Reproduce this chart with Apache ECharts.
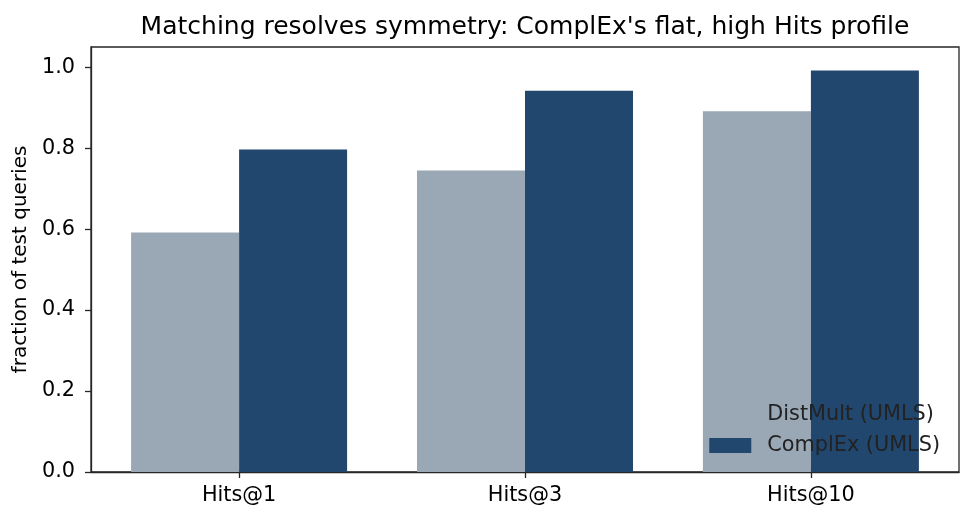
<!DOCTYPE html>
<html>
<head>
<meta charset="utf-8">
<script src="https://cdn.jsdelivr.net/npm/echarts@6/dist/echarts.min.js"></script>
<style>
  html, body { margin: 0; padding: 0; background: #fff; }
  #chart { width: 974px; height: 522px; }
</style>
</head>
<body>
<div id="chart"></div>
<script>
// data
const categories = ['Hits@1', 'Hits@3', 'Hits@10'];
const categoryPos = [0, 1, 2];
const distmult = [0.592, 0.745, 0.891];
const complex = [0.797, 0.942, 0.992];
const yTicks = [0, 0.2, 0.4, 0.6, 0.8, 1.0];

const font = 'DejaVu Sans';
const ink = '#262626';
const fs = 20.8;

const chart = echarts.init(document.getElementById('chart'));

// bars on a value x axis so the outer margins follow the reference
const toPairs = vals => vals.map((v, i) => [categoryPos[i], v]);

const option = {
    backgroundColor: '#fff',
    animation: false,
    textStyle: { fontFamily: font },
    title: {
        text: "Matching resolves symmetry: ComplEx's flat, high Hits profile",
        left: 520,
        textAlign: 'center',
        top: 10,
        textStyle: { fontFamily: font, fontSize: 25, fontWeight: 'normal', color: '#000' }
    },
    legend: {
        orient: 'vertical',
        right: 29,
        top: 399,
        icon: 'rect',
        itemWidth: 42,
        itemHeight: 15,
        itemGap: 10,
        textStyle: { fontFamily: font, fontSize: fs, color: '#222', padding: [0, 0, 0, 11], lineHeight: 21 },
        data: ['DistMult (UMLS)', 'ComplEx (UMLS)']
    },
    grid: {
        left: 91,
        right: 15,
        top: 47,
        bottom: 50,
        show: true,
        borderColor: ink,
        borderWidth: 1.3,
        backgroundColor: 'transparent'
    },
    xAxis: {
        type: 'value',
        min: -0.518,
        max: 2.518,
        splitLine: { show: false },
        axisLine: { show: true, onZero: false, lineStyle: { color: ink, width: 1.3 } },
        axisTick: { show: true, length: 6, customValues: categoryPos, lineStyle: { color: ink, width: 1.3 } },
        axisLabel: {
            customValues: categoryPos,
            formatter: v => categories[Math.round(v)],
            fontFamily: font,
            fontSize: fs,
            color: '#000',
            margin: 13
        }
    },
    yAxis: {
        type: 'value',
        min: 0,
        max: 1.05,
        name: 'fraction of test queries',
        nameLocation: 'middle',
        nameGap: 54,
        nameTextStyle: { fontFamily: font, fontSize: 20, color: '#000' },
        splitLine: { show: false },
        axisLine: { show: true, onZero: false, lineStyle: { color: ink, width: 1.3 } },
        axisTick: { show: true, length: 6, customValues: yTicks, lineStyle: { color: ink, width: 1.3 } },
        axisLabel: {
            customValues: yTicks,
            formatter: v => v.toFixed(1),
            fontFamily: font,
            fontSize: fs,
            color: '#000',
            margin: 16
        }
    },
    series: [
        {
            name: 'DistMult (UMLS)',
            type: 'bar',
            data: toPairs(distmult),
            barWidth: 108,
            barGap: '0%',
            itemStyle: { color: '#9aa7b4' }
        },
        {
            name: 'ComplEx (UMLS)',
            type: 'bar',
            data: toPairs(complex),
            barWidth: 108,
            barGap: '0%',
            itemStyle: { color: '#21476e' }
        }
    ]
};

chart.setOption(option);
window.addEventListener('resize', function () {
    chart.resize();
});
</script>
</body>
</html>
